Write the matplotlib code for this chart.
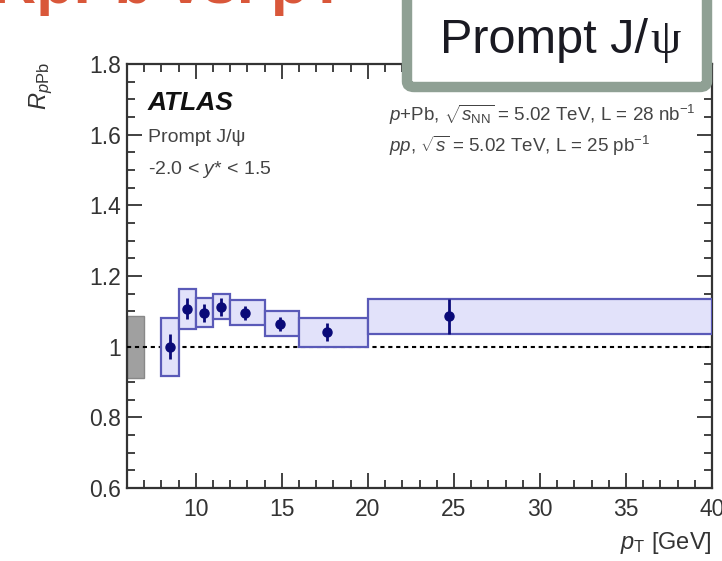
import matplotlib
matplotlib.use("Agg")
import matplotlib.pyplot as plt
from matplotlib.patches import Rectangle, FancyBboxPatch
from matplotlib.ticker import MultipleLocator, FixedLocator

plt.rcParams["font.family"] = ["Liberation Sans", "DejaVu Sans"]
plt.rcParams["mathtext.fontset"] = "custom"
plt.rcParams["mathtext.rm"] = "Liberation Sans"
plt.rcParams["mathtext.it"] = "Liberation Sans:italic"
plt.rcParams["mathtext.bf"] = "Liberation Sans:bold"

# pT bins, mean pT and R_pPb with stat / syst uncertainties
bin_lo = [8, 9, 10, 11, 12, 14, 16, 20]
bin_hi = [9, 10, 11, 12, 14, 16, 20, 40]
pt_mean = [8.48, 9.48, 10.45, 11.45, 12.85, 14.9, 17.65, 24.7]
rppb = [1.00, 1.107, 1.096, 1.113, 1.096, 1.065, 1.041, 1.086]
stat = [0.035, 0.03, 0.025, 0.025, 0.02, 0.02, 0.025, 0.05]
syst = [0.082, 0.057, 0.041, 0.036, 0.035, 0.036, 0.041, 0.05]
global_unc = 0.088

x_ticks = [10, 15, 20, 25, 30, 35, 40]
y_ticks = [0.6, 0.8, 1.0, 1.2, 1.4, 1.6, 1.8]
y_labels = ["0.6", "0.8", "1", "1.2", "1.4", "1.6", "1.8"]

W, H = 722, 561


def px(x, y):
    return x / W, 1 - y / H


fig = plt.figure(figsize=(W / 100, H / 100), dpi=100)
fig.patch.set_facecolor("white")

# slide title remnant (cut off at the top)
fig.text(*px(-8, 3), "RpPb vs. pT", color="#d9573a", fontsize=44,
         fontweight="bold", ha="left", va="baseline")

left, right, top, bottom = 127, 712, 64, 488
ax = fig.add_axes([left / W, 1 - bottom / H, (right - left) / W, (bottom - top) / H])
ax.set_xlim(6, 40)
ax.set_ylim(0.6, 1.8)

# global normalisation box
ax.add_patch(Rectangle((6, 1 - global_unc), 1.0, 2 * global_unc,
                       facecolor="#a0a0a0", edgecolor="#888888", lw=1, zorder=2))

ax.axhline(1.0, color="black", lw=1.5, ls=(0, (2, 1.8)), zorder=3)

for lo, hi, v, s in zip(bin_lo, bin_hi, rppb, syst):
    ax.add_patch(Rectangle((lo, v - s), hi - lo, 2 * s, facecolor="#e2e2fa",
                           edgecolor="#5a5ab8", lw=1.6, zorder=4))

ax.errorbar(pt_mean, rppb, yerr=stat, fmt="o", color="#0a0a78", ms=6.5,
            elinewidth=2, capsize=0, zorder=6)

ax.xaxis.set_major_locator(FixedLocator(x_ticks))
ax.xaxis.set_minor_locator(MultipleLocator(1))
ax.yaxis.set_major_locator(FixedLocator(y_ticks))
ax.set_yticklabels(y_labels)
ax.yaxis.set_minor_locator(MultipleLocator(0.05))
ax.tick_params(which="both", direction="in", top=True, right=True,
               colors="#333333", labelsize=16.5, width=1.3)
ax.tick_params(which="major", length=11)
ax.tick_params(which="minor", length=5.5)
ax.tick_params(axis="x", pad=7)
ax.tick_params(axis="y", pad=4)
for sp in ax.spines.values():
    sp.set_color("#333333")
    sp.set_linewidth(1.6)

# text inside the frame
fig.text(*px(148, 103), "ATLAS", fontsize=19, fontweight="bold", style="italic",
         color="#111111", va="center")
fig.text(*px(148, 138), "Prompt J/ψ", fontsize=14, color="#444444", va="center")
fig.text(*px(148, 170), "-2.0 < $y$* < 1.5", fontsize=14, color="#444444", va="center")
fig.text(*px(389, 115), r"$p$+Pb, $\sqrt{s_{\mathrm{NN}}}$ = 5.02 TeV, L = 28 nb$^{-1}$",
         fontsize=13.5, color="#444444", va="center")
fig.text(*px(389, 146), r"$pp$, $\sqrt{s}$ = 5.02 TeV, L = 25 pb$^{-1}$",
         fontsize=13.5, color="#444444", va="center")

# axis titles
fig.text(*px(41, 62), r"$R_{p\mathrm{Pb}}$", fontsize=17, rotation=90,
         ha="center", va="top", color="#333333")
fig.text(*px(712, 543), r"$p_{\mathrm{T}}$ [GeV]", fontsize=17,
         ha="right", va="center", color="#333333")

# overlay label box
fig.patches.append(FancyBboxPatch(px(407, 87), (707 - 407) / W, 100 / H,
                                  boxstyle="round,pad=0,rounding_size=0.01",
                                  transform=fig.transFigure, facecolor="white",
                                  edgecolor="#8fa094", lw=7.5, zorder=10))
fig.text(*px(648, 53), "Prompt J/", fontsize=35, ha="right", va="baseline",
         color="#1a1a22", zorder=11)
fig.text(*px(650, 53), "ψ", fontsize=35, ha="left", va="baseline",
         family=["Liberation Serif", "DejaVu Serif"], color="#1a1a22", zorder=11)

fig.savefig("out.png", dpi=100)
